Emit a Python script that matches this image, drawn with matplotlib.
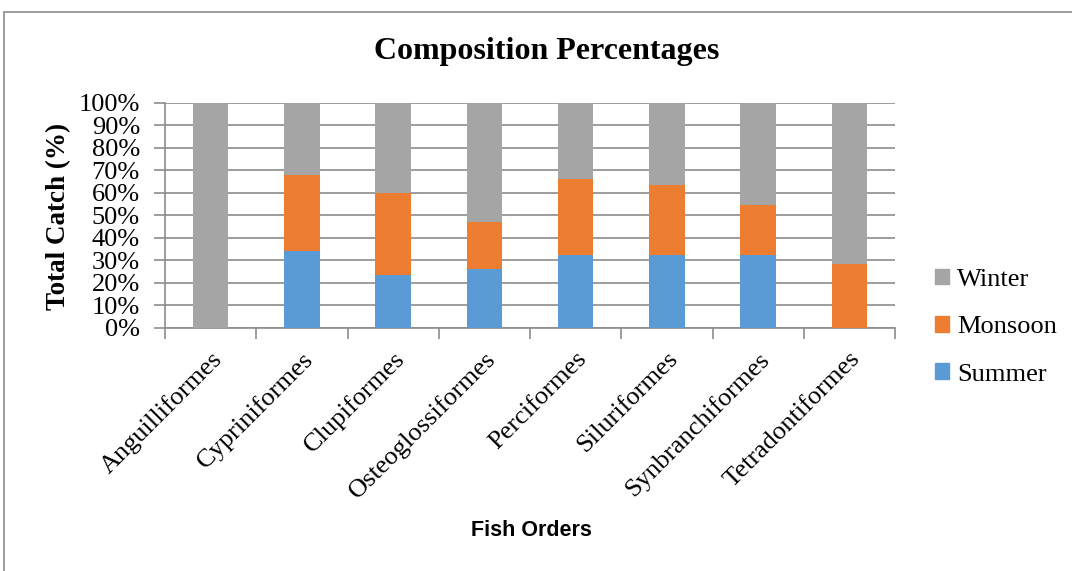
import matplotlib
matplotlib.use("Agg")
import matplotlib.pyplot as plt
from matplotlib.patches import Rectangle, Patch
import numpy as np

orders = ["Anguilliformes", "Cypriniformes", "Clupiformes", "Osteoglossiformes",
          "Perciformes", "Siluriformes", "Synbranchiformes", "Tetradontiformes"]
summer = [0, 34.0, 23.7, 26.0, 32.3, 32.2, 32.2, 0]
monsoon = [0, 34.0, 36.2, 21.1, 33.7, 31.2, 22.6, 28.4]
winter = [100 - s - m for s, m in zip(summer, monsoon)]
y_ticks = list(range(0, 101, 10))

c_summer = "#5B9BD5"
c_monsoon = "#ED7D31"
c_winter = "#A5A5A5"

serif = ["Liberation Serif", "DejaVu Serif"]

fig = plt.figure(figsize=(10.72, 5.71), dpi=100)
W, H = 1072, 571
ax = fig.add_axes([165 / W, 1 - 328 / H, (895 - 165) / W, (328 - 102.7) / H])

x = np.arange(len(orders))
bw = 0.39
ax.bar(x, summer, bw, color=c_summer, zorder=3, label="Summer")
ax.bar(x, monsoon, bw, bottom=summer, color=c_monsoon, zorder=3, label="Monsoon")
ax.bar(x, winter, bw, bottom=np.add(summer, monsoon), color=c_winter, zorder=3, label="Winter")

ax.set_xlim(-0.5, len(orders) - 0.5)
ax.set_ylim(0, 100)
ax.set_yticks(y_ticks)
ax.set_yticklabels([f"{t}%" for t in y_ticks], fontfamily=serif, fontsize=19)
ax.yaxis.grid(True, color="#8C8C8C", linewidth=1.2, zorder=0)
ax.tick_params(axis="y", length=8, color="#8C8C8C", width=1.2, pad=10)

ax.set_xticks(x)
ax.set_xticklabels(orders, rotation=45, ha="right", rotation_mode="anchor",
                   fontfamily=serif, fontsize=19)
ax.set_xticks(np.arange(-0.5, len(orders), 1), minor=True)
ax.tick_params(axis="x", which="major", length=0, pad=14)
ax.tick_params(axis="x", which="minor", length=8, color="#8C8C8C", width=1.2)

for side in ["top", "right"]:
    ax.spines[side].set_visible(False)
ax.spines["left"].set_color("#8C8C8C")
ax.spines["left"].set_linewidth(1.2)
ax.spines["bottom"].set_color("#8C8C8C")
ax.spines["bottom"].set_linewidth(1.2)

fig.text(59 / W, 1 - 216 / H, "Total Catch (%)", ha="center", va="center", rotation=90,
         fontfamily=serif, fontsize=19.5, fontweight="bold")

fig.text(547 / W, 1 - 52 / H, "Composition Percentages", ha="center", va="center",
         fontfamily=serif, fontsize=23, fontweight="bold")
fig.text(531 / W, 1 - 531 / H, "Fish Orders", ha="center", va="center",
         fontfamily=["Liberation Sans", "DejaVu Sans"], fontsize=15.5, fontweight="bold")

handles = [Patch(color=c_winter), Patch(color=c_monsoon), Patch(color=c_summer)]
leg = fig.legend(handles, ["Winter", "Monsoon", "Summer"], loc="upper left",
                 bbox_to_anchor=(928 / W, 1 - 262 / H), frameon=False,
                 prop={"family": serif, "size": 19}, handlelength=0.55,
                 handleheight=0.55, handletextpad=0.3, labelspacing=0.95,
                 borderaxespad=0, borderpad=0.25)

fig.patches.append(Rectangle((4 / W, -0.01), 1.1, 1 - 12 / H + 0.01, transform=fig.transFigure,
                             fill=False, edgecolor="#8C8C8C", linewidth=1.2))

fig.savefig("out.png", dpi=100)
